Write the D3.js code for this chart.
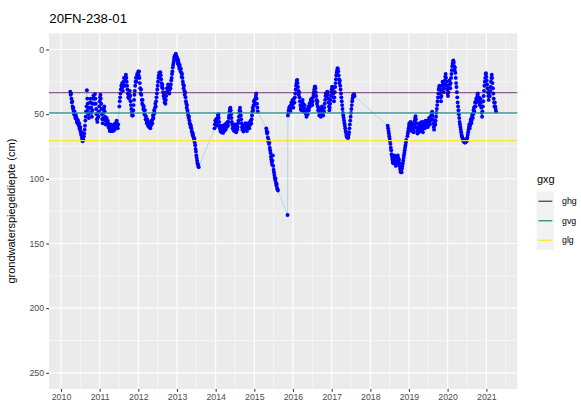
<!DOCTYPE html>
<html><head><meta charset="utf-8">
<script src="https://cdn.jsdelivr.net/npm/d3@7"></script>
<style>
body{margin:0;background:#fff;}
text{font-family:"Liberation Sans",Arial,Helvetica,sans-serif;}
</style></head><body>
<svg id="chart" width="581" height="408"></svg>
<script>
const chartTitle = "20FN-238-01";
const yAxisTitle = "grondwaterspiegeldiepte (cm)";
const legendTitle = "gxg";
const gxgNames = ["ghg", "gvg", "glg"];
const gxgValues = [33.4, 49.1, 70.5];
const gxgColors = ["#440154", "#21908C", "#FDE725"];
const gxgOpacity = [0.6, 0.9, 0.9];
const xTickYears = [2010,2011,2012,2013,2014,2015,2016,2017,2018,2019,2020,2021];
const yTicks = [0, 50, 100, 150, 200, 250];
const yLimits = [0, 250];

// observations: [decimal year, depth (cm)]
const obs = [
[2010.24,32.6],[2010.25,35],[2010.26,34],[2010.27,38],[2010.28,41],[2010.29,40],[2010.30,44],[2010.31,46],[2010.32,45],[2010.33,48],[2010.34,50],[2010.35,48],[2010.36,51],[2010.37,53],[2010.38,50.5],[2010.39,52],[2010.40,54],[2010.41,56],[2010.42,54],[2010.43,57],[2010.44,55],[2010.45,58],[2010.46,59],[2010.47,57],[2010.48,61],[2010.49,62],[2010.50,60],[2010.51,64],[2010.52,66],[2010.53,64],[2010.54,68],[2010.55,70],[2010.56,71],[2010.57,69],[2010.58,70],[2010.59,67],[2010.60,65],[2010.61,62],[2010.62,59],[2010.63,55],[2010.64,52],[2010.65,48],[2010.66,44],[2010.67,31.5],[2010.68,38],
[2010.69,42],[2010.70,46],[2010.71,50],[2010.72,53],[2010.73,49],[2010.74,45],[2010.75,41],[2010.76,38],[2010.77,41],[2010.78,45],[2010.79,49],[2010.80,52],[2010.81,47],[2010.82,42],[2010.83,38],[2010.84,35.5],[2010.85,38],[2010.86,42],[2010.87,38],[2010.88,34.5],[2010.89,38],[2010.90,42],[2010.91,46],[2010.92,50],[2010.93,54],[2010.94,56],[2010.95,53],[2010.96,49],[2010.97,52],[2010.98,48],[2010.99,44],
[2011.00,40],[2011.01,37],[2011.02,35],[2011.03,38],[2011.04,42],[2011.05,46],[2011.06,50],[2011.07,54],[2011.08,57],[2011.09,53],[2011.10,49],[2011.11,46],[2011.12,44],[2011.13,48],[2011.14,52],[2011.15,55],[2011.16,58],[2011.17,55],[2011.18,53],[2011.19,56],[2011.20,58],[2011.21,55],[2011.22,57],[2011.23,60],[2011.24,58],[2011.25,61],[2011.26,63],[2011.27,60],[2011.28,58],[2011.29,61],[2011.30,63],[2011.31,61],[2011.32,62.5],[2011.33,59],[2011.34,61],[2011.35,63],[2011.36,60],[2011.37,58],[2011.38,61],[2011.39,62],[2011.40,59],[2011.41,57],[2011.42,60],[2011.43,58],[2011.44,55],[2011.45,57],[2011.46,59],[2011.47,61],[2011.48,58],
[2011.51,44],[2011.52,40],[2011.53,37],[2011.54,34],[2011.55,31],[2011.56,28],
[2011.57,30],[2011.58,26],[2011.59,29],[2011.60,32],[2011.61,28],[2011.62,25],[2011.63,22],[2011.64,25],[2011.65,28],[2011.66,24],[2011.67,21],[2011.68,19.6],[2011.69,22],[2011.70,25],[2011.71,28],[2011.72,31],[2011.73,34],[2011.74,37],[2011.75,35],[2011.76,38],[2011.77,35],[2011.78,32],[2011.79,36],[2011.80,40],[2011.81,43],[2011.82,46],[2011.83,49],[2011.84,51],[2011.85,48],[2011.86,51],[2011.87,47],[2011.88,43],[2011.89,39],[2011.90,35],[2011.91,32],[2011.92,28],[2011.93,25],[2011.94,22],[2011.95,25],[2011.96,21],[2011.97,19],[2011.98,22],[2011.99,19],
[2012.00,17],[2012.01,20],[2012.02,17],[2012.03,22],[2012.04,26],[2012.05,30],[2012.06,34],[2012.07,31],[2012.08,35],[2012.09,39],[2012.10,42],[2012.11,39],[2012.12,43],[2012.13,46],[2012.14,44],[2012.15,47],[2012.16,50],[2012.17,47],[2012.18,51],[2012.19,54],[2012.20,52],[2012.21,55],[2012.22,57],[2012.23,54],[2012.24,56],[2012.25,59],[2012.26,56],[2012.27,58],[2012.28,60],[2012.29,57],[2012.30,59],[2012.31,61],[2012.32,59],[2012.33,56],[2012.34,58],[2012.35,55],[2012.36,57],[2012.37,54],[2012.38,51],[2012.39,53],[2012.40,50],[2012.41,47],[2012.42,49],[2012.43,45],[2012.44,42],[2012.45,44],[2012.46,40],[2012.47,37],[2012.48,34],[2012.49,31],[2012.50,28],[2012.51,25],[2012.52,22],[2012.53,20],[2012.54,18],[2012.55,21],[2012.56,18],[2012.57,17.6],[2012.58,20],[2012.59,23],[2012.60,26],[2012.61,29],[2012.62,27],[2012.63,30],[2012.64,33],[2012.65,36],[2012.66,34],[2012.67,38],[2012.68,41],[2012.69,39],[2012.70,42],[2012.71,39],[2012.72,36],[2012.73,33],[2012.74,30],[2012.75,33],[2012.76,30],[2012.77,27],[2012.78,29],[2012.79,32],[2012.80,34],[2012.81,31],[2012.82,28],[2012.83,30],[2012.84,27],[2012.85,24],[2012.86,22],[2012.87,19],[2012.88,17],[2012.89,14],[2012.90,12],[2012.91,10],[2012.92,8],[2012.93,6],[2012.94,5],[2012.95,7],[2012.96,4],[2012.97,3.3],[2012.98,5],[2012.99,8],
[2013.00,6],[2013.01,9],[2013.02,11],[2013.03,8],[2013.04,10],[2013.05,13],[2013.06,15],[2013.07,12],[2013.08,14],[2013.09,17],[2013.10,15],[2013.11,18],[2013.12,21],[2013.13,19],[2013.14,22],[2013.15,25],[2013.16,27],[2013.17,30],[2013.18,28],[2013.19,32],[2013.20,35],[2013.21,33],[2013.22,37],[2013.23,40],[2013.24,42],[2013.25,45],[2013.26,43],[2013.27,47],[2013.28,49],[2013.29,51],[2013.30,53],[2013.31,52],[2013.32,55],[2013.33,57],[2013.34,58],[2013.35,60],[2013.36,59],[2013.37,61],[2013.38,63],[2013.39,64],[2013.40,66],[2013.41,65],[2013.42,67],[2013.43,68],[2013.44,70],[2013.45,69],[2013.46,72],[2013.47,74],[2013.48,77],[2013.49,79],[2013.50,82],[2013.51,84],[2013.52,86],[2013.53,88],[2013.54,89],[2013.55,90],[2013.56,91],
[2013.97,61],[2013.98,58],[2013.99,55],[2014.00,57],[2014.01,54],[2014.02,57],[2014.03,59],[2014.04,56],[2014.05,53],[2014.06,51],[2014.07,50],[2014.08,53],[2014.09,56],[2014.10,59],[2014.11,61],[2014.12,63],[2014.13,60],[2014.14,62],[2014.15,64],[2014.16,61],[2014.17,59],[2014.18,62],[2014.19,64.5],[2014.20,62],[2014.21,60],[2014.22,63],[2014.23,61],[2014.24,58],[2014.25,60],[2014.26,62],[2014.27,59],[2014.28,57],[2014.29,60],[2014.30,58],[2014.31,56],[2014.32,59],[2014.33,56],[2014.34,53],[2014.35,51],[2014.36,48],[2014.37,46],[2014.38,45],[2014.39,47],[2014.40,50],[2014.41,53],[2014.42,56],[2014.43,58],[2014.44,61],[2014.45,59],[2014.46,62],[2014.47,60],[2014.48,63],[2014.49,61],[2014.50,58],[2014.51,60],[2014.52,63],[2014.53,64],[2014.54,61],[2014.55,59],[2014.56,62],[2014.57,60],[2014.58,57],[2014.59,55],[2014.60,52],[2014.61,49],[2014.62,47],[2014.63,45],[2014.64,48],[2014.65,51],[2014.66,54],[2014.67,57],[2014.68,60],[2014.69,62],[2014.70,59],[2014.71,61],[2014.72,63.5],[2014.73,61],[2014.74,59],[2014.75,62],[2014.76,60],[2014.77,57],[2014.78,60],[2014.79,62],[2014.80,60],[2014.81,63],[2014.82,61],[2014.83,58],[2014.84,60],[2014.85,57],[2014.86,59],[2014.87,61],[2014.88,58],[2014.89,56],[2014.90,58],[2014.91,55],[2014.92,57],[2014.93,54],[2014.94,51],[2014.95,48],[2014.96,45],[2014.97,47],[2014.98,43],[2014.99,40],[2015.00,43],[2015.01,39],[2015.02,42],[2015.03,38],[2015.04,36],[2015.05,34],[2015.06,38],[2015.07,42],[2015.08,45],[2015.09,48],
[2015.31,61],[2015.32,63],[2015.33,65],[2015.34,64],[2015.35,68],[2015.36,71],[2015.37,70],[2015.38,73],[2015.39,72],[2015.40,76],[2015.41,78],[2015.42,80],[2015.43,83],[2015.44,85],[2015.45,87],[2015.46,89],[2015.47,86],[2015.48,82],[2015.49,90],[2015.50,93],[2015.51,95],[2015.52,97],[2015.53,99],[2015.54,101],[2015.55,100],[2015.56,103],[2015.57,105],[2015.58,104],[2015.59,107],[2015.60,108],[2015.61,109],[2015.86,128],
[2015.87,51],[2015.88,49],[2015.89,47],[2015.90,45],[2015.91,47],[2015.92,44],[2015.93,48],[2015.94,46],[2015.95,43],[2015.96,41],[2015.97,44],[2015.98,42],[2015.99,39],[2016.00,42],[2016.01,45],[2016.02,41],[2016.03,38],[2016.04,41],[2016.05,37],[2016.06,34],[2016.07,31],[2016.08,28],[2016.09,26],[2016.10,24],[2016.11,23.5],[2016.12,26],[2016.13,29],[2016.14,32],[2016.15,35],[2016.16,33],[2016.17,37],[2016.18,40],[2016.19,43],[2016.20,46],[2016.21,44],[2016.22,47],[2016.23,44],[2016.24,41],[2016.25,39],[2016.26,42],[2016.27,45],[2016.28,48],[2016.29,46],[2016.30,43],[2016.31,46],[2016.32,49],[2016.33,47],[2016.34,50],[2016.35,52],[2016.36,49],[2016.37,47],[2016.38,50],[2016.39,46],[2016.40,44],[2016.41,47],[2016.42,45],[2016.43,42],[2016.44,44],[2016.45,41],[2016.46,39],[2016.47,41],[2016.48,38],[2016.49,41],[2016.50,43],[2016.51,40],[2016.52,37],[2016.53,35],[2016.54,33],[2016.55,31],[2016.56,29],[2016.57,28.5],[2016.58,30],[2016.59,33],[2016.60,36],[2016.61,39],[2016.62,42],[2016.63,40],[2016.64,44],[2016.65,47],[2016.66,45],[2016.67,48],[2016.68,51],[2016.69,49],[2016.70,46],[2016.71,49],[2016.72,52],[2016.73,50],[2016.74,47],[2016.75,44],[2016.76,46],[2016.77,49],[2016.78,51],[2016.79,48],[2016.80,48],[2016.81,45],[2016.82,42],[2016.83,39],[2016.84,36],[2016.85,34],[2016.86,36],[2016.87,34],[2016.88,33],[2016.89,32.6],[2016.90,35],[2016.91,38],[2016.92,41],[2016.93,44],[2016.94,47],[2016.95,45],[2016.96,42],[2016.97,39],[2016.98,36],[2016.99,33],
[2017.00,31],[2017.01,29],[2017.02,28.7],[2017.03,31],[2017.04,34],[2017.05,37],[2017.06,40],[2017.07,37],[2017.08,33],[2017.09,29],[2017.10,26],[2017.11,23],[2017.12,20],[2017.13,18],[2017.14,16],[2017.15,14.4],[2017.16,15],[2017.17,17],[2017.18,20],[2017.19,23],[2017.20,26],[2017.21,24],[2017.22,28],[2017.23,31],[2017.24,34],[2017.25,37],[2017.26,40],[2017.27,43],[2017.28,46],[2017.29,49],[2017.30,51],[2017.31,53],[2017.32,55],[2017.33,57],[2017.34,59],[2017.35,61],[2017.36,63],[2017.37,64],[2017.38,66],[2017.39,67],[2017.40,68],[2017.41,67.5],[2017.42,68.5],[2017.43,68],[2017.44,66],[2017.45,64],[2017.46,61],[2017.47,58],[2017.48,55],[2017.49,52],[2017.50,49],[2017.51,46],[2017.52,43],[2017.53,40],[2017.54,38],[2017.55,36],[2017.56,35],[2017.57,36],[2017.58,34.5],[2017.59,36],
[2018.45,59],[2018.46,61],[2018.47,63],[2018.48,65],[2018.49,67],[2018.50,69],[2018.51,71],[2018.52,73],[2018.53,76],[2018.54,78],[2018.55,81],[2018.56,83],[2018.57,85],[2018.58,87],[2018.59,88],[2018.60,86],[2018.61,84],[2018.62,82],[2018.63,84],[2018.64,86],[2018.65,88],[2018.66,90],[2018.67,89],[2018.68,87],[2018.69,85],[2018.70,83],[2018.71,82],[2018.72,84],[2018.73,86],[2018.74,85],[2018.75,88],[2018.76,90],[2018.77,92],[2018.78,94],[2018.79,95],[2018.80,93],[2018.81,95],[2018.82,92],[2018.83,90],[2018.84,88],[2018.85,86],[2018.86,84],[2018.87,82],[2018.88,80],[2018.89,78],[2018.90,76],[2018.91,74],[2018.92,72],[2018.93,70],[2018.96,67],[2018.97,65],[2018.98,63],[2018.99,61],[2019.00,59],[2019.01,57],[2019.02,60],[2019.03,58],[2019.04,56],[2019.05,58],
[2019.06,61],[2019.07,63],[2019.08,60],[2019.09,57],[2019.10,59],[2019.11,62],[2019.12,64],[2019.13,61],[2019.14,58],[2019.15,55],[2019.16,53],[2019.17,51.5],[2019.18,54],[2019.19,57],[2019.20,60],[2019.21,63],[2019.22,65],[2019.23,63],[2019.24,61],[2019.25,64],[2019.26,62],[2019.27,59],[2019.28,57],[2019.29,60],[2019.30,63],[2019.31,61],[2019.32,58],[2019.33,56],[2019.34,59],[2019.35,62],[2019.36,64],[2019.37,61],[2019.38,58],[2019.39,56],[2019.40,59],[2019.41,61],[2019.42,58],[2019.43,55],[2019.44,57],[2019.45,60],[2019.46,58],[2019.47,55],[2019.48,57],[2019.49,60],[2019.50,58],[2019.51,55],[2019.52,53],[2019.53,56],[2019.54,58],[2019.55,55],[2019.56,52],[2019.57,54],[2019.58,51],[2019.59,49],[2019.60,48.2],[2019.61,51],[2019.62,54],[2019.63,57],[2019.64,60],[2019.65,62],[2019.66,59],[2019.67,56],[2019.68,58],[2019.69,55],[2019.70,52],[2019.71,49],[2019.72,46],[2019.73,43],[2019.74,40],[2019.75,37],[2019.76,34],[2019.77,31],[2019.78,29],[2019.79,28],[2019.80,31],[2019.81,34],[2019.82,37],[2019.83,40],[2019.84,36],[2019.85,32],[2019.86,28],[2019.87,25],[2019.88,27],[2019.89,30],[2019.90,33],[2019.91,30],[2019.92,27],[2019.93,24],[2019.94,21],[2019.95,19],[2019.96,22],[2019.97,25],[2019.98,28],[2019.99,31],
[2020.00,34],[2020.01,36],[2020.02,33],[2020.03,30],[2020.04,27],[2020.05,24],[2020.06,27],[2020.07,30],[2020.08,26],[2020.09,22],[2020.10,19],[2020.11,16],[2020.12,13],[2020.13,11],[2020.14,9],[2020.15,8.5],[2020.16,10],[2020.17,13],[2020.18,16],[2020.19,14],[2020.20,18],[2020.21,22],[2020.22,26],[2020.23,29],[2020.24,33],[2020.25,37],[2020.26,41],[2020.27,44],[2020.28,47],[2020.29,50],[2020.30,53],[2020.31,56],[2020.32,58],[2020.33,60],[2020.34,62],[2020.35,64],[2020.36,66],[2020.37,67],[2020.38,68],[2020.39,69],[2020.40,70],[2020.41,71],[2020.42,70],[2020.43,71.5],[2020.44,72],[2020.45,71],[2020.46,72],[2020.47,71],[2020.48,70],[2020.49,71],[2020.50,69],[2020.51,68],[2020.52,66],[2020.53,64],[2020.54,62],[2020.55,60],[2020.56,58],[2020.57,61],[2020.58,59],[2020.59,56],[2020.60,54],[2020.61,57],[2020.62,55],[2020.63,52],[2020.64,50],[2020.65,53],[2020.66,50],[2020.67,47],[2020.68,45],[2020.69,48],[2020.70,44],[2020.71,41],[2020.72,44],[2020.73,40],[2020.74,38],[2020.75,41],[2020.76,37],[2020.77,35],[2020.78,34],[2020.79,37],[2020.80,40],[2020.81,37],[2020.82,40],[2020.83,43],[2020.84,41],[2020.85,38],[2020.86,41],[2020.87,45],[2020.88,49],[2020.89,52],[2020.90,48],[2020.91,44],[2020.92,40],[2020.93,36],[2020.94,32],[2020.95,28],[2020.96,25],[2020.97,22],[2020.98,19],[2020.99,18.3],
[2021.00,21],[2021.01,24],[2021.02,27],[2021.03,30],[2021.04,33],[2021.05,36],[2021.06,39],[2021.07,36],[2021.08,33],[2021.09,36],[2021.10,32],[2021.11,29],[2021.12,25],[2021.13,22],[2021.14,19.6],[2021.15,22],[2021.16,26],[2021.17,30],[2021.18,34],[2021.19,38],[2021.20,41],[2021.21,44],[2021.22,41],[2021.23,44],[2021.24,46],[2021.25,48]
];

function decYearToDate(y) {
  const yr = Math.floor(y);
  const s = Date.UTC(yr, 0, 1), e = Date.UTC(yr + 1, 0, 1);
  return new Date(s + (y - yr) * (e - s));
}

const data = obs.map(d => ({date: decYearToDate(d[0]), depth: d[1]}));

const svg = d3.select("#chart");
const P = {left: 49, right: 517.3, top: 33.3, bottom: 389};

// ggplot-like 5% expansion
const ext = d3.extent(data, d => +d.date);
const padX = (ext[1] - ext[0]) * 0.05;
const x = d3.scaleUtc().domain([new Date(ext[0] - padX), new Date(ext[1] + padX)]).range([P.left, P.right]);
const padY = (yLimits[1] - yLimits[0]) * 0.05;
const y = d3.scaleLinear().domain([yLimits[0] - padY, yLimits[1] + padY]).range([P.top, P.bottom]);

// panel
svg.append("rect").attr("x", P.left).attr("y", P.top)
  .attr("width", P.right - P.left).attr("height", P.bottom - P.top).attr("fill", "#EBEBEB");

const xMajor = xTickYears.map(yr => new Date(Date.UTC(yr, 0, 1)));
const xMinor = [];
for (let i = 0; i < xMajor.length; i++) {
  const a = +xMajor[i];
  const b = i < xMajor.length - 1 ? +xMajor[i + 1] : a + (a - +xMajor[i - 1]);
  const m = new Date((a + b) / 2);
  if (m >= x.domain()[0] && m <= x.domain()[1]) xMinor.push(m);
}
const yMinor = [];
for (let i = 0; i < yTicks.length - 1; i++) yMinor.push((yTicks[i] + yTicks[i + 1]) / 2);

const grid = svg.append("g");
grid.selectAll(".xmin").data(xMinor).enter().append("line")
  .attr("x1", d => x(d)).attr("x2", d => x(d)).attr("y1", P.top).attr("y2", P.bottom)
  .attr("stroke", "#fff").attr("stroke-width", 0.55);
grid.selectAll(".ymin").data(yMinor).enter().append("line")
  .attr("y1", d => y(d)).attr("y2", d => y(d)).attr("x1", P.left).attr("x2", P.right)
  .attr("stroke", "#fff").attr("stroke-width", 0.55);
grid.selectAll(".xmaj").data(xMajor).enter().append("line")
  .attr("x1", d => x(d)).attr("x2", d => x(d)).attr("y1", P.top).attr("y2", P.bottom)
  .attr("stroke", "#fff").attr("stroke-width", 1.1);
grid.selectAll(".ymaj").data(yTicks).enter().append("line")
  .attr("y1", d => y(d)).attr("y2", d => y(d)).attr("x1", P.left).attr("x2", P.right)
  .attr("stroke", "#fff").attr("stroke-width", 1.1);

// series line + points
const line = d3.line().x(d => x(d.date)).y(d => y(d.depth));
svg.append("path").datum(data).attr("d", line)
  .attr("fill", "none").attr("stroke", "#ADD8E6").attr("stroke-width", 1);
svg.append("g").selectAll("circle").data(data).enter().append("circle")
  .attr("cx", d => x(d.date)).attr("cy", d => y(d.depth)).attr("r", 1.95).attr("fill", "#0000FF");

// gxg lines
svg.append("g").selectAll("line").data(gxgValues).enter().append("line")
  .attr("x1", P.left).attr("x2", P.right).attr("y1", d => y(d)).attr("y2", d => y(d))
  .attr("stroke", (d, i) => gxgColors[i]).attr("stroke-opacity", (d, i) => gxgOpacity[i]).attr("stroke-width", 1.3);

// axes
const xAxis = d3.axisBottom(x).tickValues(xMajor).tickFormat(d3.utcFormat("%Y")).tickSize(2.75).tickPadding(2.2);
const gx = svg.append("g").attr("transform", `translate(0,${P.bottom})`).call(xAxis);
const yAxis = d3.axisLeft(y).tickValues(yTicks).tickSize(2.75).tickPadding(2.2);
const gy = svg.append("g").attr("transform", `translate(${P.left},0)`).call(yAxis);
[gx, gy].forEach(g => {
  g.select(".domain").remove();
  g.selectAll(".tick line").attr("stroke", "#333333").attr("stroke-width", 1.07);
  g.selectAll(".tick text").attr("fill", "#4D4D4D").style("font-size", "8.8px")
    .style("font-family", '"Liberation Sans", Arial, sans-serif');
});

// titles
svg.append("text").attr("x", 49.3).attr("y", 23.3).text(chartTitle)
  .style("font-size", "13.2px").attr("fill", "#000");
svg.append("text").attr("transform", `translate(14.5,${(P.top + P.bottom) / 2}) rotate(-90)`)
  .attr("text-anchor", "middle").style("font-size", "11px").attr("fill", "#000").text(yAxisTitle);

// legend
const L = svg.append("g");
L.append("text").attr("x", 537).attr("y", 182.5).style("font-size", "11px").attr("fill", "#000").text(legendTitle);
const keyH = 19.5, keyTop = 191.5;
gxgNames.forEach((n, i) => {
  const cy = keyTop + keyH * i + keyH / 2;
  L.append("rect").attr("x", 536.7).attr("y", keyTop + keyH * i).attr("width", 17.3).attr("height", keyH).attr("fill", "#F2F2F2");
  L.append("line").attr("x1", 538.4).attr("x2", 552.3).attr("y1", cy).attr("y2", cy)
    .attr("stroke", gxgColors[i]).attr("stroke-opacity", Math.min(1, gxgOpacity[i] + 0.2)).attr("stroke-width", 1.3);
  L.append("text").attr("x", 562).attr("y", cy + 3).style("font-size", "8.8px").attr("fill", "#000").text(n);
});
</script>
</body></html>
